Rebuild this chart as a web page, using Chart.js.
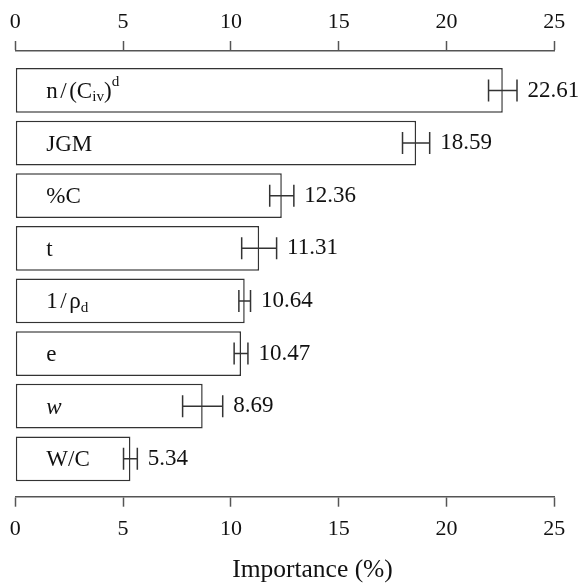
<!DOCTYPE html>
<html>
<head>
<meta charset="utf-8">
<script src="https://cdn.jsdelivr.net/npm/chart.js@4.4.1/dist/chart.umd.min.js"></script>
<style>
  html, body { margin: 0; padding: 0; background: #fff; }
  #wrap { width: 581px; height: 584px; }
</style>
</head>
<body>
<div id="wrap"><canvas id="chart" width="581" height="584"></canvas></div>
<script>
// Variable names: _{..} subscript, ^{..} superscript, *..* italic, ~ thin gap
const categories = ['n~/~(C_{iv})^{d}', 'JGM', '%C', 't', '1~/~ρ_{d}', 'e', '*w*', 'W/C'];
const importance = [22.61, 18.59, 12.36, 11.31, 10.64, 10.47, 8.69, 5.34];
const errors = [0.66, 0.63, 0.56, 0.81, 0.27, 0.32, 0.93, 0.32];
const axisTicks = [0, 5, 10, 15, 20, 25];
const axisTitle = 'Importance (%)';

const FAMILY = "'Liberation Serif', 'Times New Roman', serif";
const INK = '#111';
const LINE = '#333';
const AXIS = '#555';

// Split a label into styled runs
function parseLabel(str) {
  const runs = [];
  let i = 0, buf = '', italic = false;
  const flush = () => { if (buf) { runs.push({ text: buf, mode: 'normal', italic }); buf = ''; } };
  while (i < str.length) {
    const ch = str[i];
    if ((ch === '_' || ch === '^') && str[i + 1] === '{') {
      flush();
      const end = str.indexOf('}', i + 2);
      runs.push({ text: str.slice(i + 2, end), mode: ch === '_' ? 'sub' : 'sup', italic });
      i = end + 1;
    } else if (ch === '*') {
      flush();
      italic = !italic;
      i++;
    } else if (ch === '~') {
      flush();
      runs.push({ text: '', mode: 'gap', italic });
      i++;
    } else {
      buf += ch;
      i++;
    }
  }
  flush();
  return runs;
}

function drawRich(ctx, str, x, baseline, size) {
  let cx = x;
  for (const r of parseLabel(str)) {
    if (r.mode === 'gap') { cx += 2.5; continue; }
    let fs = size, dy = 0;
    if (r.mode === 'sub') { fs = size * 0.66; dy = 3.5; }
    if (r.mode === 'sup') { fs = size * 0.66; dy = -12; }
    ctx.font = (r.italic ? 'italic ' : '') + fs + 'px ' + FAMILY;
    ctx.fillText(r.text, cx, baseline + dy);
    cx += ctx.measureText(r.text).width;
  }
}

const annotate = {
  id: 'annotate',
  afterDatasetsDraw(chart) {
    const ctx = chart.ctx;
    const xs = chart.scales.x;
    const ys = chart.scales.y;
    ctx.save();
    ctx.strokeStyle = LINE;
    ctx.lineWidth = 1.5;
    ctx.fillStyle = INK;
    importance.forEach((v, i) => {
      const cy = ys.getPixelForValue(i);
      const lo = xs.getPixelForValue(v - errors[i]);
      const hi = xs.getPixelForValue(v + errors[i]);
      const cap = 11;
      ctx.beginPath();
      ctx.moveTo(lo, cy); ctx.lineTo(hi, cy);
      ctx.moveTo(lo, cy - cap); ctx.lineTo(lo, cy + cap);
      ctx.moveTo(hi, cy - cap); ctx.lineTo(hi, cy + cap);
      ctx.stroke();

      // value label
      ctx.font = '23px ' + FAMILY;
      ctx.textAlign = 'left';
      ctx.textBaseline = 'middle';
      ctx.fillText(v.toFixed(2), hi + 10.5, cy);

      // variable name inside the bar
      ctx.textBaseline = 'alphabetic';
      drawRich(ctx, categories[i], xs.getPixelForValue(0) + 31, cy + 7.5, 23);
    });

    // axis title, set a little right of the axis centre
    ctx.font = '25.5px ' + FAMILY;
    ctx.textAlign = 'center';
    ctx.textBaseline = 'middle';
    ctx.fillText(axisTitle, 312.5, 570);
    ctx.restore();
  }
};

const tickFont = { family: FAMILY, size: 22 };

function xAxis(position, height) {
  return {
    type: 'linear',
    position,
    min: axisTicks[0],
    max: axisTicks[axisTicks.length - 1],
    afterBuildTicks: s => { s.ticks = axisTicks.map(v => ({ value: v })); },
    afterFit: s => { s.height = height; },
    grid: { drawOnChartArea: false, drawTicks: true, tickLength: 10, tickColor: AXIS, tickWidth: 1.5 },
    border: { display: true, color: AXIS, width: 1.5 },
    ticks: { font: tickFont, color: INK, maxRotation: 0, autoSkip: false, padding: position === 'top' ? 6 : 9 }
  };
}

new Chart(document.getElementById('chart'), {
  type: 'bar',
  data: {
    datasets: [{
      data: importance.map((v, i) => ({ x: v, y: i })),
      backgroundColor: '#fff',
      borderColor: LINE,
      borderWidth: 1.5,
      borderSkipped: false,
      categoryPercentage: 1,
      barPercentage: 0.85,
      xAxisID: 'x',
      yAxisID: 'y'
    }]
  },
  options: {
    indexAxis: 'y',
    responsive: false,
    animation: false,
    devicePixelRatio: 1,
    layout: { padding: { left: 15.3, right: 26.7, top: 0, bottom: 0 } },
    plugins: { legend: { display: false }, tooltip: { enabled: false } },
    scales: {
      x: xAxis('top', 51),
      x2: xAxis('bottom', 87.3),
      y: {
        type: 'linear',
        min: -0.75,
        max: 7.72,
        reverse: true,
        offset: false,
        display: false,
        grid: { offset: false },
        afterBuildTicks: s => { s.ticks = categories.map((c, i) => ({ value: i })); }
      }
    }
  },
  plugins: [annotate]
});
</script>
</body>
</html>
